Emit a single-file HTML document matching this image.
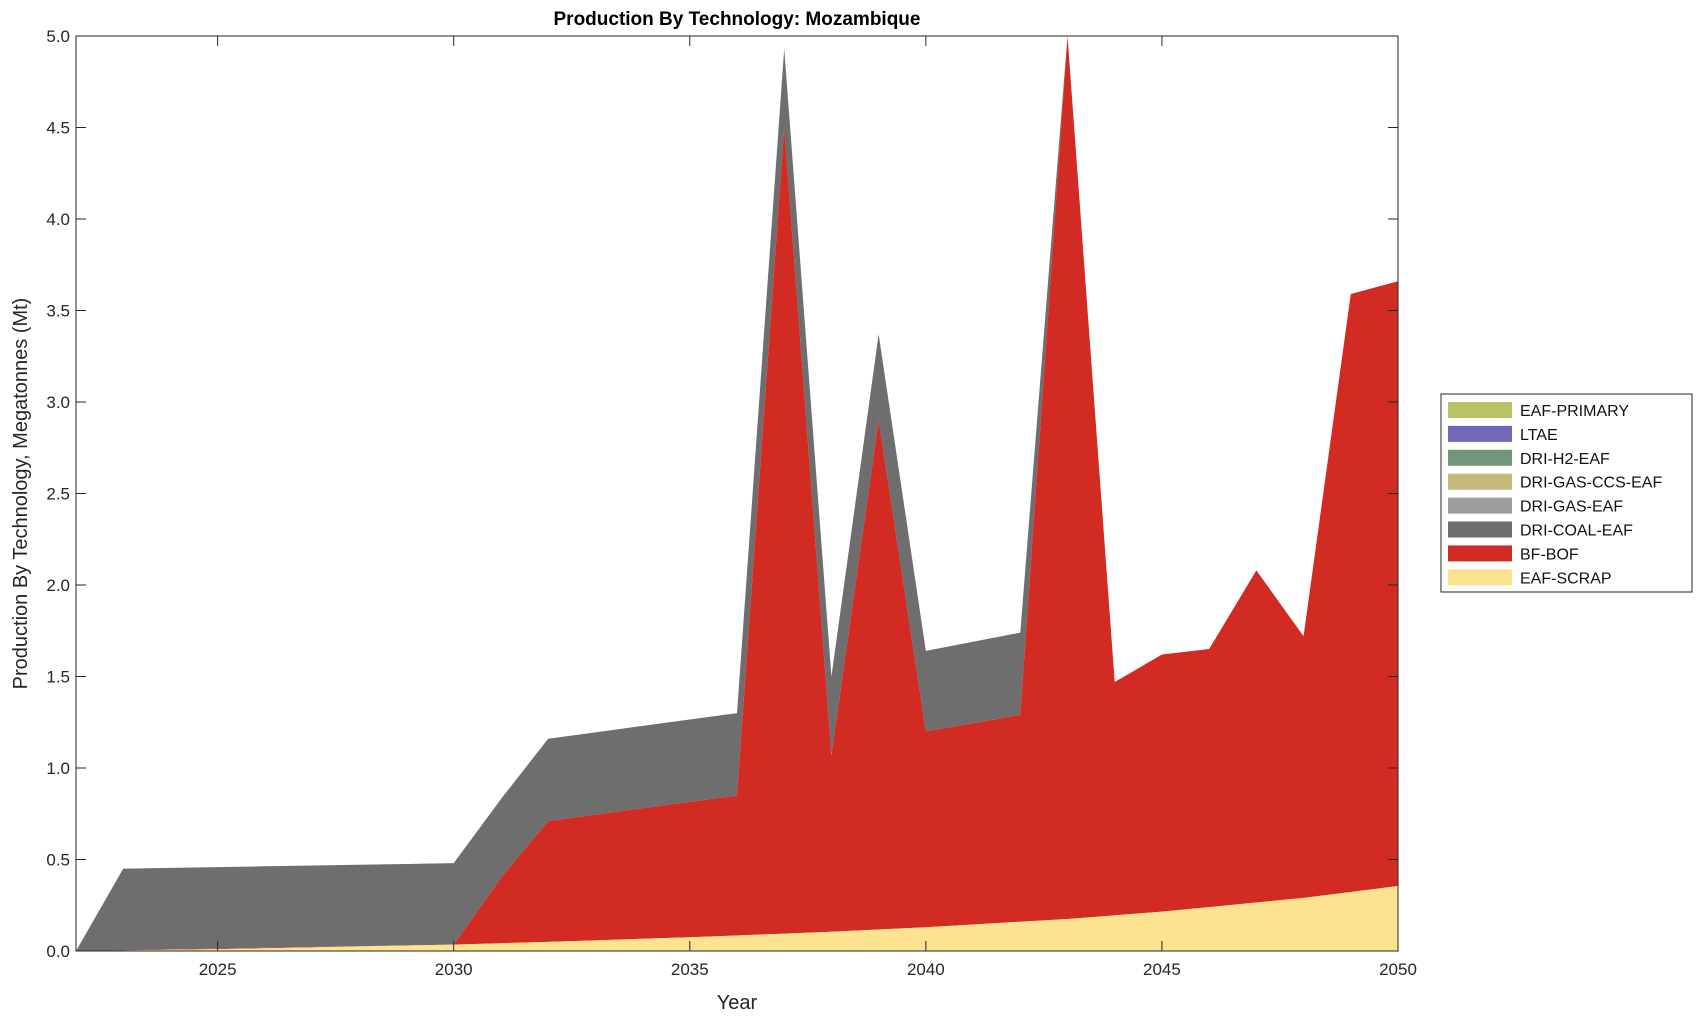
<!DOCTYPE html>
<html><head><meta charset="utf-8"><style>
body{margin:0;background:#fff;}
svg{display:block;font-family:"Liberation Sans",Arial,sans-serif;}
</style></head><body>
<svg id="s" width="1703" height="1020" viewBox="0 0 1703 1020" xmlns="http://www.w3.org/2000/svg"></svg>
<script>
const L=76,R=1398,T=36,B=951;
const X=y=>L+(y-2022)*(R-L)/28, Y=v=>B-v*(B-T)/5;
const yrs=[];for(let y=2022;y<=2050;y++)yrs.push(y);
function interp(pts,y){for(let i=0;i<pts.length-1;i++){const[a,va]=pts[i],[b,vb]=pts[i+1];if(y>=a&&y<=b)return va+(vb-va)*(y-a)/(b-a);}return pts[pts.length-1][1];}
const sp=[[2022,0],[2023,0.003],[2025,0.01],[2030,0.035],[2032,0.05],[2035,0.075],[2038,0.105],[2040,0.13],[2043,0.175],[2045,0.215],[2048,0.29],[2050,0.355]];
const sc=yrs.map(y=>interp(sp,y));
const bf=[[2022,0],[2030,0.035],[2031,0.4],[2032,0.71],[2036,0.85],[2037,4.5],[2038,1.07],[2039,2.9],[2040,1.2],[2042,1.29],[2043,5.0],[2044,1.47],[2045,1.62],[2046,1.65],[2047,2.08],[2048,1.72],[2049,3.59],[2050,3.66]];
const tot=[[2022,0],[2023,0.45],[2030,0.48],[2031,0.83],[2032,1.16],[2036,1.3],[2037,4.93],[2038,1.5],[2039,3.37],[2040,1.64],[2042,1.74],[2043,5.0],[2044,1.47],[2045,1.62],[2046,1.65],[2047,2.08],[2048,1.72],[2049,3.59],[2050,3.66]];
const bfv=yrs.map((y,i)=>Math.max(interp(bf,y),sc[i]));
const tv=yrs.map((y,i)=>Math.max(interp(tot,y),bfv[i]));
function poly(top,bot,col){let p=yrs.map((y,i)=>X(y)+','+Y(top[i]));for(let i=yrs.length-1;i>=0;i--)p.push(X(yrs[i])+','+Y(bot[i]));return `<polygon points="${p.join(' ')}" fill="${col}"/>`;}
const z=yrs.map(()=>0);
let h='';
h+=poly(tv,bfv,'#6e6e6e');h+=poly(bfv,sc,'#d22b24');h+=poly(sc,z,'#fde28f');
h+=`<rect x="${L}" y="${T}" width="${R-L}" height="${B-T}" fill="none" stroke="#262626" stroke-width="1"/>`;
for(let v=0;v<=5;v+=0.5){const y=Y(v);h+=`<line x1="${L}" y1="${y}" x2="${L+10}" y2="${y}" stroke="#262626"/><line x1="${R}" y1="${y}" x2="${R-10}" y2="${y}" stroke="#262626"/><text x="${L-6}" y="${y+6}" text-anchor="end" font-size="17" fill="#262626">${v.toFixed(1)}</text>`;}
for(let yr=2025;yr<=2050;yr+=5){const x=X(yr);h+=`<line x1="${x}" y1="${B}" x2="${x}" y2="${B-10}" stroke="#262626"/><line x1="${x}" y1="${T}" x2="${x}" y2="${T+10}" stroke="#262626"/><text x="${x}" y="${B+24}" text-anchor="middle" font-size="17" fill="#262626">${yr}</text>`;}
h+=`<text x="${(L+R)/2}" y="25" text-anchor="middle" font-size="19" font-weight="bold">Production By Technology: Mozambique</text>`;
h+=`<text x="${(L+R)/2}" y="1009" text-anchor="middle" font-size="20" fill="#262626">Year</text>`;
h+=`<text transform="translate(27,${(T+B)/2}) rotate(-90)" text-anchor="middle" font-size="20" fill="#262626">Production By Technology, Megatonnes (Mt)</text>`;
h+=`<rect x="1441" y="394" width="251" height="198" fill="#fff" stroke="#262626"/>`;
const leg=[['EAF-PRIMARY','#b9c265'],['LTAE','#7268b8'],['DRI-H2-EAF','#72967a'],['DRI-GAS-CCS-EAF','#c5b97b'],['DRI-GAS-EAF','#9e9e9e'],['DRI-COAL-EAF','#6e6e6e'],['BF-BOF','#d22b24'],['EAF-SCRAP','#fde28f']];
leg.forEach((l,i)=>{const y=402+i*23.9;h+=`<rect x="1448" y="${y}" width="64" height="16" fill="${l[1]}"/><text x="1520" y="${y+14}" font-size="16" fill="#111">${l[0]}</text>`;});
document.getElementById('s').innerHTML=h;
</script>
</body></html>
